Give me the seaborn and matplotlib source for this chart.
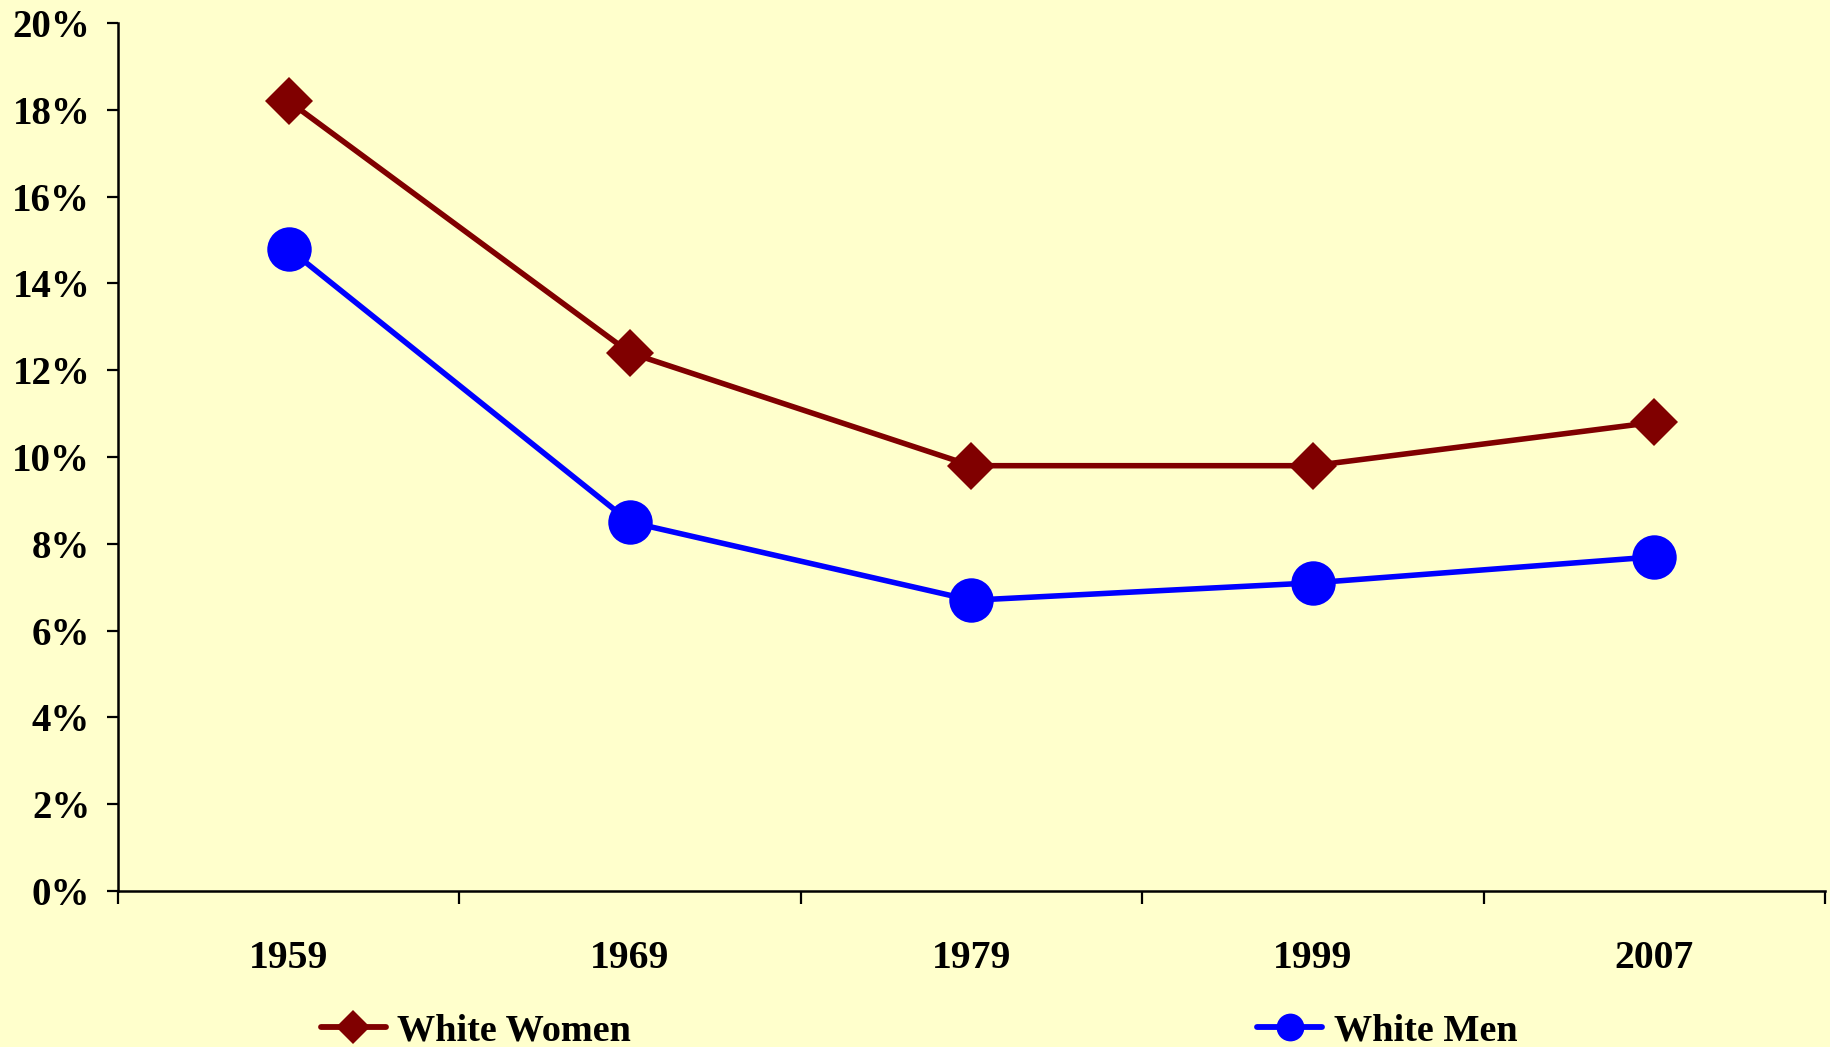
import pandas as pd
import matplotlib.pyplot as plt
from matplotlib.lines import Line2D
import seaborn as sns

# data
years = ['1959', '1969', '1979', '1999', '2007']
white_women = [18.2, 12.4, 9.8, 9.8, 10.8]
white_men = [14.8, 8.5, 6.7, 7.1, 7.7]
y_ticks = [0, 2, 4, 6, 8, 10, 12, 14, 16, 18, 20]

bg = '#FFFFCC'
women_col = '#800000'
men_col = '#0000FF'

sns.set_style('white')
plt.rcParams['font.family'] = ['Liberation Serif', 'DejaVu Serif']
plt.rcParams['font.weight'] = 'bold'
plt.rcParams['text.color'] = 'black'
plt.rcParams['xtick.color'] = 'black'
plt.rcParams['ytick.color'] = 'black'

df = pd.DataFrame({'x': range(len(years)), 'women': white_women, 'men': white_men})

fig = plt.figure(figsize=(18.31, 10.47), dpi=100, facecolor=bg)
ax = fig.add_axes([0.0644, 0.149, 0.9323, 0.829])
ax.set_facecolor(bg)

sns.lineplot(data=df, x='x', y='women', ax=ax, color=women_col, lw=4,
             marker='D', markersize=24.5, markeredgewidth=0, zorder=3)
sns.lineplot(data=df, x='x', y='men', ax=ax, color=men_col, lw=4,
             marker='o', markersize=32, markeredgewidth=0, zorder=3)

ax.set_xlim(-0.5, len(years) - 0.5)
ax.set_ylim(0, 20)
ax.set_yticks(y_ticks)
ax.set_yticklabels([f'{v}%' for v in y_ticks])

# category boundaries as major ticks, labels on minor ticks
ax.set_xticks([i - 0.5 for i in range(len(years) + 1)])
ax.set_xticklabels([])
ax.set_xticks(range(len(years)), minor=True)
ax.set_xticklabels(years, minor=True)
ax.tick_params(axis='x', which='major', bottom=True, length=9.5, width=1.6, direction='out')
ax.tick_params(axis='x', which='minor', bottom=True, length=0, pad=35, labelsize=28.5)
ax.tick_params(axis='y', left=True, length=8, width=1.6, direction='out', pad=12, labelsize=28)
ax.set_xlabel('')
ax.set_ylabel('')

for s in ['top', 'right']:
    ax.spines[s].set_visible(False)
for s in ['left', 'bottom']:
    ax.spines[s].set_color('black')
    ax.spines[s].set_linewidth(1.8)

handles = [
    Line2D([], [], color=women_col, lw=4.2, marker='D', markersize=17, markeredgewidth=0),
    Line2D([], [], color=men_col, lw=4.2, marker='o', markersize=20, markeredgewidth=0),
]
fig.legend(handles, ['White Women', 'White Men'], loc='center', bbox_to_anchor=(0.502, 0.015),
           ncol=2, frameon=False, fontsize=27.5, handlelength=1.7, handletextpad=0.3,
           columnspacing=16.4)

fig.savefig('out.png', dpi=100, facecolor=bg)
